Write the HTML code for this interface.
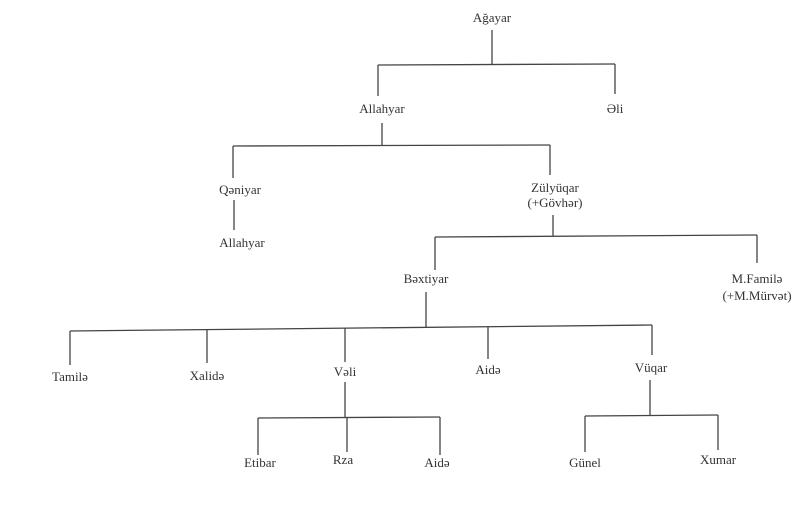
<!DOCTYPE html>
<html><head><meta charset="utf-8"><style>
html,body{margin:0;padding:0;background:#fff;}
svg{display:block;}
text{font-family:"Liberation Serif",serif;font-size:13px;fill:#333;text-anchor:middle;}
line{stroke:#444;stroke-width:1.3;}
</style></head><body>
<svg width="800" height="508" viewBox="0 0 800 508">
<g>
<line x1="492" y1="30" x2="492" y2="65"/>
<line x1="378" y1="65" x2="615" y2="64"/>
<line x1="378" y1="65" x2="378" y2="96"/>
<line x1="615" y1="64" x2="615" y2="94"/>
<line x1="382" y1="123" x2="382" y2="145"/>
<line x1="233" y1="146" x2="550" y2="145"/>
<line x1="233" y1="146" x2="233" y2="178"/>
<line x1="550" y1="145" x2="550" y2="175"/>
<line x1="234" y1="200" x2="234" y2="230"/>
<line x1="553" y1="215" x2="553" y2="236"/>
<line x1="435" y1="237" x2="757" y2="235"/>
<line x1="435" y1="237" x2="435" y2="270"/>
<line x1="757" y1="235" x2="757" y2="263"/>
<line x1="426" y1="292" x2="426" y2="327"/>
<line x1="70" y1="331" x2="652" y2="325"/>
<line x1="70" y1="331" x2="70" y2="365"/>
<line x1="207" y1="330" x2="207" y2="363"/>
<line x1="345" y1="328" x2="345" y2="362"/>
<line x1="488" y1="327" x2="488" y2="359"/>
<line x1="652" y1="325" x2="652" y2="355"/>
<line x1="345" y1="382" x2="345" y2="417"/>
<line x1="258" y1="418" x2="440" y2="417"/>
<line x1="258" y1="418" x2="258" y2="455"/>
<line x1="347" y1="418" x2="347" y2="452"/>
<line x1="440" y1="417" x2="440" y2="455"/>
<line x1="650" y1="380" x2="650" y2="415"/>
<line x1="585" y1="416" x2="718" y2="415"/>
<line x1="585" y1="416" x2="585" y2="452"/>
<line x1="718" y1="415" x2="718" y2="450"/>
</g>
<text x="492" y="22">Ağayar</text>
<text x="382" y="113">Allahyar</text>
<text x="615" y="113">Əli</text>
<text x="240" y="194">Qəniyar</text>
<text x="242" y="247">Allahyar</text>
<text x="555" y="192">Zülyüqar</text>
<text x="555" y="207">(+Gövhər)</text>
<text x="426" y="283">Bəxtiyar</text>
<text x="757" y="283">M.Familə</text>
<text x="757" y="300">(+M.Mürvət)</text>
<text x="70" y="381">Tamilə</text>
<text x="207" y="380">Xalidə</text>
<text x="345" y="376">Vəli</text>
<text x="488" y="374">Aidə</text>
<text x="651" y="372">Vüqar</text>
<text x="260" y="467">Etibar</text>
<text x="343" y="464">Rza</text>
<text x="437" y="467">Aidə</text>
<text x="585" y="467">Günel</text>
<text x="718" y="464">Xumar</text>
</svg>
</body></html>
